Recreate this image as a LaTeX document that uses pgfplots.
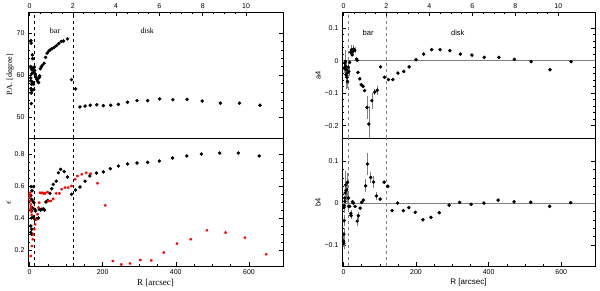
\documentclass[border=0pt]{standalone}
\usepackage{fontspec}
\setmainfont{Liberation Sans}
\newfontfamily\serif{Liberation Serif}
\usepackage{pgfplots}
\pgfplotsset{compat=1.18}
\usepackage{pgfplotstable}

\pgfplotstableread{
R PA
4 68.2
4.5 67.6
8 64.8
8.5 63.9
3 62.0
5 61.6
7 61.2
9 61.6
10.5 61.3
12 60.7
13 61.9
14 61.1
15 60.3
16 60.0
18 59.5
6 60.3
3.5 59.3
4 58.6
6 57.8
9 58.3
11 57.8
4 56.8
6 56.3
5 55.7
5 53.2
12 56.5
20 59.0
22 58.5
24 59.2
27 59.4
25 58.2
28 59.8
30 61.5
32 61.9
35 62.3
40 62.8
44 64.2
48 65.2
53 65.7
57 66.0
62 66.3
68 66.6
74 67.0
80 67.5
87 68.0
93 68.1
104 68.6
115 58.9
126 56.7
138 52.4
152 52.6
166 52.8
184 52.9
202 52.7
222 52.8
243 53.0
268 53.5
294 53.9
323 53.9
356 54.3
392 54.1
431 54.2
472 53.8
522 53.3
574 53.3
630 52.8
}\patab

\pgfplotstableread{
R E
4.5 0.596
11 0.596
7 0.57
3.6 0.54
6 0.517
9 0.506
12 0.496
8 0.465
14 0.454
17 0.444
6 0.444
6 0.40
11 0.406
20 0.396
24.5 0.40
3.6 0.35
6 0.33
3.6 0.31
6 0.298
15 0.39
27 0.454
31 0.45
34 0.455
38 0.458
41 0.45
45 0.50
50 0.51
56 0.554
61 0.583
65 0.61
73 0.63
79 0.683
85 0.704
95 0.69
104 0.656
115 0.548
126 0.575
138 0.594
152 0.63
165 0.663
183 0.681
202 0.688
221 0.708
243 0.725
268 0.738
294 0.744
323 0.748
355 0.756
391 0.775
430 0.788
470 0.8
520 0.806
571 0.806
628 0.788
}\epsblack

\pgfplotstableread{
R E
0 0.527
2 0.558
1 0.545
2 0.506
3.6 0.485
2 0.454
4 0.47
5 0.44
6 0.42
3.6 0.163
7 0.225
9 0.267
11 0.298
13 0.33
15.5 0.36
18 0.39
22 0.423
24.5 0.465
27 0.496
29 0.558
33 0.556
36 0.558
40 0.553
43 0.554
49 0.562
52 0.506
58 0.506
65 0.52
73 0.554
82 0.554
88 0.58
97 0.59
106 0.59
115 0.60
125 0.642
131 0.663
143 0.673
155 0.683
167 0.677
186 0.617
207 0.479
228 0.131
251 0.11
275 0.116
303 0.137
333 0.135
367 0.184
403 0.24
441 0.267
485 0.323
536 0.309
589 0.277
647 0.173
}\epsred

\pgfplotstableread{
R v e
2 -0.023 0.01
3.6 -0.007 0.02
5.5 -0.002 0.03
5.5 -0.017 0.02
7 -0.043 0.04
8 -0.028 0.01
9 -0.051 0.01
11 -0.038 0.01
11 -0.064 0.015
13 -0.02 0.01
14.6 -0.033 0.01
17 -0.005 0
20 0.026 0
22 0.034 0.01
24 0.018 0
26 0.029 0.005
28 0.036 0.008
31 0.032 0.005
36 0.005 0
38 0.001 0
40 -0.036 0
45 -0.056 0
49 -0.074 0
54 -0.079 0
58 -0.092 0
65 -0.144 0.03
70 -0.195 0.05
78 -0.123 0.02
86 -0.097 0.005
93 -0.091 0.01
102 -0.019 0
113 -0.051 0
124 -0.058 0
136 -0.058 0
150 -0.038 0
166 -0.033 0
181 -0.019 0
200 0.003 0
221 0.0205 0
243 0.034 0
266 0.034 0
293 0.031 0
322 0.0205 0
354 0.0174 0
388 0.0103 0
428 0.0103 0
471 0.004 0
517 -0.003 0
569 -0.028 0
627 -0.003 0
}\afour

\pgfplotstableread{
R v e
0 -0.091 0.01
1 -0.096 0.01
1 -0.074 0.01
2 -0.042 0.01
1 -0.011 0.01
2 -0.006 0.01
3.7 0.012 0.02
4 0.004 0.01
4.6 0.024 0.02
6 0.043 0.03
7 0.03 0.02
9 0.032 0.03
11 0.049 0.02
14 0.012 0.01
14 -0.008 0.01
17 -0.008 0
20 -0.025 0.005
21 -0.03 0.005
25 0.003 0
27 0 0
32 -0.008 0
38 -0.043 0.008
41 -0.03 0.006
46 -0.012 0
50 0.0016 0
55 0.007 0
61 0.041 0.012
66 0.093 0.022
75 0.061 0.01
83 0.05 0.01
91 0.017 0.005
101 0.0095 0
112 0.05 0
122 0.04 0
134 -0.018 0
149 0 0
165 -0.018 0
180 -0.011 0
198 -0.022 0
219 -0.04 0
241 -0.034 0
264 -0.023 0
291 -0.005 0
320 0.0016 0
352 -0.003 0
387 0 0
426 0.007 0
470 0.003 0
516 0.002 0
568 -0.008 0
626 0.001 0
}\bfour

\pgfplotsset{
  base/.style={scale only axis, xmin=-4, xmax=693, tick align=inside,
    major tick length=4pt, minor tick length=2pt,
    ticklabel style={font=\fontsize{7}{8}\selectfont},
    /pgf/number format/assume math mode=true,
    ytick pos=both, axis line style={line width=0.6pt},
    every tick/.style={line width=0.5pt}},
  kpc/.style={base, xmin=-0.0676, xmax=11.706, ymin=0, ymax=1, ytick=\empty,
    xtick={0,2,4,6,8,10}, minor x tick num=3, xtick pos=right, xticklabel pos=right},
  dots/.style={only marks, mark=*, mark size=1.55pt, black},
  errdots/.style={only marks, mark=*, mark size=1.55pt, black,
    error bars/.cd, y dir=both, y explicit,
    error bar style={gray, line width=0.4pt},
    error mark options={gray, mark size=1.5pt, line width=0.4pt}},
}

\begin{document}
\begin{tikzpicture}
\useasboundingbox (0,0) rectangle (600pt,290pt);

% ---------- left top: PA
\begin{axis}[base, at={(28pt,152pt)}, anchor=south west, width=255pt, height=126pt,
  ymin=45, ymax=75, ytick={50,60,70}, minor y tick num=4, xtick=\empty,
  ylabel={\serif\fontsize{8}{9}\selectfont P.A. [degree]},
  ylabel style={at={(axis description cs:-0.07,0.5)}, anchor=center}]
\addplot[dots] table[x=R,y=PA] {\patab};
\draw[dashed, line width=0.5pt] (axis cs:13.7,45) -- (axis cs:13.7,75);
\draw[dashed, line width=0.5pt] (axis cs:118.4,45) -- (axis cs:118.4,75);
\node[font=\serif\fontsize{8}{9}\selectfont] at (axis cs:70,70.5) {bar};
\node[font=\serif\fontsize{8}{9}\selectfont] at (axis cs:322,70.5) {disk};
\end{axis}
\begin{axis}[kpc, at={(28pt,152pt)}, anchor=south west, width=255pt, height=126pt]
\node[font=\fontsize{7}{8}\selectfont, anchor=south] at (rel axis cs:0.97,1) [yshift=2pt] {[kpc]};
\end{axis}

% ---------- left bottom: ellipticity
\begin{axis}[base, at={(28pt,24pt)}, anchor=south west, width=255pt, height=128pt,
  ymin=0.1, ymax=0.9, ytick={0.2,0.4,0.6,0.8}, minor y tick num=3,
  xtick={0,200,400,600}, minor x tick num=3, xtick pos=left,
  xlabel={\serif\fontsize{9}{9}\selectfont R [arcsec]},
  xlabel style={at={(axis description cs:0.5,-0.13)}, anchor=center},
  ylabel={$\epsilon$},
  ylabel style={at={(axis description cs:-0.075,0.5)}, anchor=center}]
\addplot[dots] table[x=R,y=E] {\epsblack};
\addplot[only marks, mark=asterisk, mark size=1.4pt, red, line width=0.7pt] table[x=R,y=E] {\epsred};
\draw[dashed, line width=0.5pt] (axis cs:13.7,0.1) -- (axis cs:13.7,0.9);
\draw[dashed, line width=0.5pt] (axis cs:118.4,0.1) -- (axis cs:118.4,0.9);
\draw[line width=1.2pt] (rel axis cs:0,1) -- (rel axis cs:1,1);
\end{axis}

% ---------- right top: a4
\begin{axis}[base, at={(342pt,152pt)}, anchor=south west, width=253pt, height=126pt,
  ymin=-0.238, ymax=0.15, ytick={-0.2,-0.1,0,0.1}, yticklabels={−0.2,−0.1,0,0.1},
  minor y tick num=4, xtick=\empty,
  ylabel={a4}, ylabel style={font=\fontsize{7.5}{8}\selectfont, at={(axis description cs:-0.095,0.5)}, anchor=center}]
\draw[gray, line width=0.5pt] (axis cs:-4,0) -- (axis cs:693,0);
\draw[gray, dashed, line width=0.5pt] (axis cs:13.7,-0.238) -- (axis cs:13.7,0.15);
\draw[gray, dashed, line width=0.5pt] (axis cs:118.4,-0.238) -- (axis cs:118.4,0.15);
\addplot[errdots] table[x=R,y=v,y error=e] {\afour};
\node[font=\fontsize{7.5}{8}\selectfont] at (axis cs:68,0.086) {bar};
\node[font=\fontsize{7.5}{8}\selectfont] at (axis cs:315,0.086) {disk};
\end{axis}
\begin{axis}[kpc, at={(342pt,152pt)}, anchor=south west, width=253pt, height=126pt]
\node[font=\fontsize{7}{8}\selectfont, anchor=south] at (rel axis cs:0.97,1) [yshift=2pt] {[kpc]};
\end{axis}

% ---------- right bottom: b4
\begin{axis}[base, at={(342pt,24pt)}, anchor=south west, width=253pt, height=128pt,
  ymin=-0.15, ymax=0.155, ytick={-0.1,0,0.1}, yticklabels={−0.1,0,0.1},
  minor y tick num=4,
  xtick={0,200,400,600}, minor x tick num=3, xtick pos=left,
  xlabel={R [arcsec]},
  xlabel style={font=\fontsize{8}{8}\selectfont, at={(axis description cs:0.5,-0.13)}, anchor=center},
  ylabel={b4}, ylabel style={font=\fontsize{7.5}{8}\selectfont, at={(axis description cs:-0.095,0.5)}, anchor=center}]
\draw[gray, line width=0.5pt] (axis cs:-4,0) -- (axis cs:693,0);
\draw[gray, dashed, line width=0.5pt] (axis cs:13.7,-0.15) -- (axis cs:13.7,0.155);
\draw[gray, dashed, line width=0.5pt] (axis cs:118.4,-0.15) -- (axis cs:118.4,0.155);
\addplot[errdots] table[x=R,y=v,y error=e] {\bfour};
\end{axis}
\end{tikzpicture}
\end{document}
